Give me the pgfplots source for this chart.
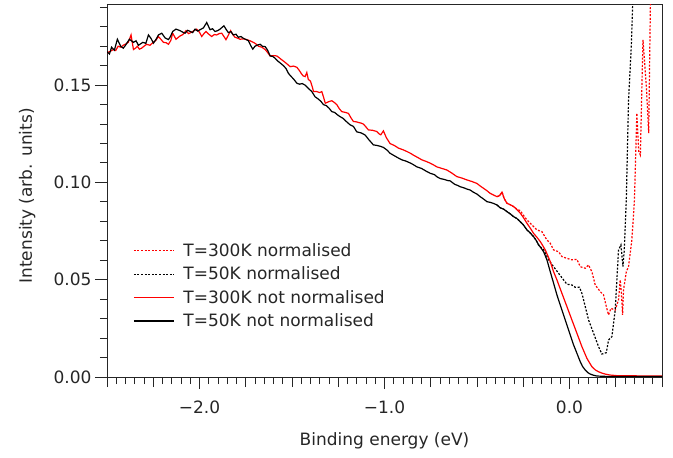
\documentclass[border=0pt]{standalone}
\usepackage{pgfplots}
\pgfplotsset{compat=1.18}
\usepackage{fontspec}
\setmainfont{DejaVu Sans}
\newcommand{\ff}{\fontsize{17}{20}\selectfont}

\pgfplotstableread{
x y
-2.500 0.1672
-2.487 0.1660
-2.475 0.1695
-2.460 0.1680
-2.444 0.1736
-2.426 0.1700
-2.412 0.1690
-2.400 0.1705
-2.379 0.1736
-2.357 0.1720
-2.343 0.1728
-2.330 0.1705
-2.306 0.1720
-2.290 0.1715
-2.276 0.1758
-2.262 0.1740
-2.249 0.1716
-2.235 0.1735
-2.222 0.1758
-2.204 0.1767
-2.186 0.1743
-2.168 0.1734
-2.157 0.1750
-2.145 0.1776
-2.127 0.1788
-2.105 0.1780
-2.090 0.1772
-2.078 0.1767
-2.064 0.1782
-2.050 0.1776
-2.037 0.1770
-2.024 0.1788
-2.010 0.1778
-1.997 0.1785
-1.979 0.1794
-1.961 0.1822
-1.943 0.1785
-1.930 0.1790
-1.916 0.1776
-1.902 0.1780
-1.889 0.1788
-1.868 0.1805
-1.855 0.1785
-1.844 0.1770
-1.830 0.1775
-1.817 0.1758
-1.803 0.1762
-1.790 0.1746
-1.776 0.1750
-1.763 0.1741
-1.750 0.1735
-1.736 0.1729
-1.724 0.1705
-1.712 0.1685
-1.700 0.1700
-1.690 0.1705
-1.672 0.1710
-1.660 0.1700
-1.645 0.1698
-1.632 0.1680
-1.618 0.1650
-1.605 0.1648
-1.591 0.1638
-1.578 0.1625
-1.564 0.1614
-1.546 0.1600
-1.532 0.1585
-1.519 0.1560
-1.505 0.1545
-1.490 0.1530
-1.474 0.1510
-1.460 0.1505
-1.445 0.1508
-1.429 0.1500
-1.410 0.1482
-1.393 0.1467
-1.375 0.1440
-1.360 0.1430
-1.345 0.1418
-1.330 0.1400
-1.315 0.1395
-1.300 0.1382
-1.285 0.1364
-1.270 0.1360
-1.255 0.1348
-1.240 0.1338
-1.225 0.1330
-1.205 0.1312
-1.186 0.1296
-1.168 0.1288
-1.150 0.1260
-1.128 0.1255
-1.105 0.1244
-1.085 0.1220
-1.060 0.1193
-1.040 0.1190
-1.020 0.1185
-1.006 0.1180
-0.985 0.1165
-0.970 0.1150
-0.952 0.1140
-0.930 0.1128
-0.906 0.1116
-0.885 0.1110
-0.861 0.1100
-0.845 0.1092
-0.825 0.1080
-0.800 0.1072
-0.775 0.1058
-0.753 0.1047
-0.730 0.1040
-0.715 0.1028
-0.699 0.1020
-0.675 0.1015
-0.660 0.1010
-0.645 0.1008
-0.620 0.0990
-0.605 0.0985
-0.591 0.0978
-0.570 0.0972
-0.555 0.0966
-0.537 0.0961
-0.520 0.0950
-0.500 0.0940
-0.483 0.0927
-0.465 0.0915
-0.446 0.0901
-0.430 0.0898
-0.410 0.0892
-0.392 0.0884
-0.375 0.0870
-0.355 0.0862
-0.338 0.0850
-0.320 0.0838
-0.302 0.0824
-0.285 0.0815
-0.266 0.0798
-0.248 0.0780
-0.230 0.0756
-0.212 0.0740
-0.194 0.0721
-0.180 0.0702
-0.167 0.0679
-0.153 0.0662
-0.140 0.0644
-0.122 0.0602
-0.104 0.0541
-0.086 0.0482
-0.068 0.0422
-0.050 0.0370
-0.032 0.0319
-0.014 0.0267
0.004 0.0216
0.022 0.0165
0.040 0.0122
0.058 0.0079
0.070 0.0055
0.085 0.0036
0.100 0.0022
0.112 0.0015
0.130 0.0009
0.148 0.0005
0.200 0.0003
0.300 0.0003
0.400 0.0003
0.500 0.0003
}\blacksolid

\pgfplotstableread{
x y
-2.500 0.1666
-2.480 0.1675
-2.466 0.1683
-2.453 0.1678
-2.440 0.1700
-2.425 0.1695
-2.412 0.1705
-2.398 0.1712
-2.385 0.1720
-2.370 0.1758
-2.357 0.1683
-2.346 0.1690
-2.336 0.1700
-2.325 0.1685
-2.313 0.1690
-2.300 0.1700
-2.286 0.1710
-2.268 0.1705
-2.250 0.1720
-2.236 0.1730
-2.222 0.1750
-2.208 0.1735
-2.195 0.1720
-2.180 0.1718
-2.168 0.1710
-2.155 0.1730
-2.145 0.1767
-2.127 0.1736
-2.115 0.1745
-2.105 0.1753
-2.090 0.1760
-2.073 0.1780
-2.060 0.1765
-2.047 0.1770
-2.030 0.1780
-2.015 0.1788
-2.000 0.1772
-1.988 0.1750
-1.976 0.1765
-1.965 0.1776
-1.950 0.1762
-1.934 0.1750
-1.920 0.1760
-1.907 0.1758
-1.893 0.1765
-1.880 0.1767
-1.868 0.1750
-1.857 0.1734
-1.845 0.1755
-1.832 0.1780
-1.820 0.1760
-1.808 0.1746
-1.795 0.1742
-1.781 0.1736
-1.763 0.1738
-1.745 0.1734
-1.727 0.1728
-1.709 0.1720
-1.695 0.1712
-1.681 0.1700
-1.663 0.1695
-1.645 0.1683
-1.632 0.1668
-1.618 0.1650
-1.600 0.1652
-1.582 0.1650
-1.568 0.1640
-1.555 0.1630
-1.541 0.1620
-1.528 0.1610
-1.510 0.1595
-1.492 0.1598
-1.474 0.1592
-1.460 0.1575
-1.450 0.1560
-1.440 0.1548
-1.429 0.1544
-1.420 0.1565
-1.412 0.1530
-1.400 0.1520
-1.390 0.1490
-1.384 0.1467
-1.366 0.1467
-1.350 0.1462
-1.339 0.1467
-1.330 0.1440
-1.320 0.1407
-1.302 0.1415
-1.285 0.1420
-1.270 0.1410
-1.258 0.1400
-1.245 0.1380
-1.231 0.1364
-1.212 0.1360
-1.195 0.1355
-1.180 0.1330
-1.168 0.1313
-1.154 0.1312
-1.140 0.1308
-1.127 0.1305
-1.114 0.1300
-1.100 0.1285
-1.087 0.1270
-1.065 0.1268
-1.042 0.1262
-1.030 0.1250
-1.020 0.1245
-1.006 0.1265
-0.990 0.1230
-0.980 0.1215
-0.970 0.1200
-0.947 0.1190
-0.924 0.1176
-0.900 0.1168
-0.879 0.1159
-0.860 0.1150
-0.843 0.1140
-0.820 0.1128
-0.798 0.1116
-0.775 0.1108
-0.753 0.1099
-0.735 0.1090
-0.717 0.1080
-0.690 0.1072
-0.663 0.1064
-0.636 0.1048
-0.609 0.1030
-0.580 0.1022
-0.555 0.1013
-0.528 0.1005
-0.501 0.0995
-0.483 0.0982
-0.465 0.0970
-0.447 0.0958
-0.429 0.0944
-0.410 0.0935
-0.392 0.0927
-0.378 0.0932
-0.365 0.0950
-0.352 0.0915
-0.338 0.0893
-0.320 0.0885
-0.302 0.0876
-0.284 0.0860
-0.266 0.0842
-0.248 0.0818
-0.230 0.0790
-0.212 0.0765
-0.194 0.0738
-0.176 0.0718
-0.158 0.0696
-0.145 0.0676
-0.131 0.0653
-0.118 0.0625
-0.104 0.0593
-0.086 0.0541
-0.068 0.0499
-0.041 0.0430
-0.014 0.0362
0.013 0.0293
0.040 0.0225
0.067 0.0156
0.094 0.0096
0.121 0.0053
0.140 0.0036
0.157 0.0027
0.175 0.0020
0.193 0.0015
0.220 0.0010
0.256 0.0007
0.350 0.0006
0.500 0.0005
}\redsolid

\pgfplotstableread{
x y
-0.392 0.0884
-0.375 0.0870
-0.355 0.0862
-0.338 0.0850
-0.320 0.0838
-0.302 0.0824
-0.285 0.0815
-0.266 0.0798
-0.248 0.0780
-0.230 0.0756
-0.212 0.0740
-0.194 0.0721
-0.180 0.0702
-0.167 0.0679
-0.153 0.0664
-0.140 0.0655
-0.113 0.0602
-0.086 0.0567
-0.059 0.0533
-0.032 0.0499
-0.014 0.0477
0.013 0.0473
0.031 0.0461
0.054 0.0461
0.067 0.0430
0.085 0.0362
0.103 0.0293
0.130 0.0225
0.157 0.0156
0.175 0.0118
0.199 0.0125
0.211 0.0190
0.229 0.0207
0.247 0.0344
0.265 0.0653
0.278 0.0679
0.289 0.0567
0.296 0.0653
0.307 0.0910
0.319 0.1420
0.334 0.1700
0.341 0.1900
0.346 0.2100
}\blackdot

\pgfplotstableread{
x y
-0.392 0.0927
-0.378 0.0932
-0.365 0.0950
-0.352 0.0915
-0.338 0.0893
-0.320 0.0885
-0.302 0.0876
-0.284 0.0862
-0.266 0.0855
-0.248 0.0830
-0.230 0.0807
-0.203 0.0781
-0.176 0.0756
-0.149 0.0747
-0.122 0.0704
-0.104 0.0687
-0.086 0.0653
-0.059 0.0644
-0.041 0.0619
-0.014 0.0610
0.013 0.0602
0.040 0.0605
0.058 0.0567
0.085 0.0559
0.103 0.0576
0.121 0.0541
0.139 0.0473
0.166 0.0439
0.184 0.0422
0.199 0.0362
0.211 0.0319
0.224 0.0353
0.247 0.0344
0.265 0.0396
0.274 0.0499
0.280 0.0439
0.287 0.0319
0.292 0.0447
0.307 0.0541
0.319 0.0567
0.337 0.0704
0.351 0.0910
0.364 0.1356
0.374 0.1160
0.383 0.1141
0.397 0.1733
0.415 0.1500
0.428 0.1253
0.437 0.1900
0.441 0.2100
}\reddot

\begin{document}
\begin{tikzpicture}
\begin{axis}[
  scale only axis,
  width=555pt, height=372pt,
  xmin=-2.5, xmax=0.5,
  ymin=0, ymax=0.1912,
  axis line style={line width=1pt, draw=black!85},
  tick pos=left,
  tick align=outside,
  tick style={line width=1pt, black!85},
  xtick={-2,-1,0},
  xticklabels={−2.0,−1.0,0.0},
  minor xtick={-2.45,-2.4,-2.35,-2.3,-2.2,-2.15,-2.1,-2.05,-1.95,-1.9,-1.85,-1.8,-1.7,-1.65,-1.6,-1.55,-1.45,-1.4,-1.35,-1.3,-1.2,-1.15,-1.1,-1.05,-0.95,-0.9,-0.85,-0.8,-0.7,-0.65,-0.6,-0.55,-0.45,-0.4,-0.35,-0.3,-0.2,-0.15,-0.1,-0.05,0.05,0.1,0.15,0.2,0.3,0.35,0.4,0.45},
  extra x ticks={-2.5,-2.25,-1.75,-1.5,-1.25,-0.75,-0.5,-0.25,0.25,0.5},
  extra x tick labels={},
  extra x tick style={major tick length=10pt},
  ytick={0,0.05,0.1,0.15},
  minor ytick={0.01,0.02,0.03,0.04,0.06,0.07,0.08,0.09,0.11,0.12,0.13,0.14,0.16,0.17,0.18,0.19},
  major tick length=12pt,
  minor tick length=7pt,
  yticklabel style={/pgf/number format/.cd, fixed, fixed zerofill, precision=2},
  xticklabel style={yshift=-8pt},
  /pgf/number format/assume math mode=true,
  tick label style={font=\ff, text=black!85},
  label style={font=\ff, text=black!85},
  xlabel={Binding energy (eV)},
  ylabel={Intensity (arb. units)},
  xlabel style={at={(axis description cs:0.5,-0.172)}, anchor=center},
  ylabel style={at={(axis description cs:-0.144,0.487)}, anchor=center},
  legend style={draw=none, fill=none, font=\ff, text=black!85,
    at={(axis description cs:0.047,0.362)}, anchor=north west,
    row sep=7pt, inner sep=0pt, nodes={inner sep=1pt},
    /tikz/every odd column/.append style={column sep=8pt}},
  legend cell align=left,
  legend image code/.code={\draw[#1] (0pt,0pt) -- (40pt,0pt);},
]
\coordinate (SW) at (rel axis cs:0,0);
\coordinate (NE) at (rel axis cs:1,1);
\addplot[red, line width=1.2pt, dash pattern=on 2pt off 1.6pt] table[x=x,y=y] {\reddot};
\addlegendentry{T=300K normalised}
\addplot[black, line width=1.2pt, dash pattern=on 2pt off 1.6pt] table[x=x,y=y] {\blackdot};
\addlegendentry{T=50K normalised}
\addplot[red, line width=1.2pt] table[x=x,y=y] {\redsolid};
\addlegendentry{T=300K not normalised}
\addplot[black, line width=1.2pt] table[x=x,y=y] {\blacksolid};
\addlegendentry{T=50K not normalised}
\end{axis}
\pgfresetboundingbox
\path[use as bounding box] ([shift={(-107pt,-80pt)}]SW) rectangle ([shift={(11pt,5pt)}]NE);
\end{tikzpicture}
\end{document}
